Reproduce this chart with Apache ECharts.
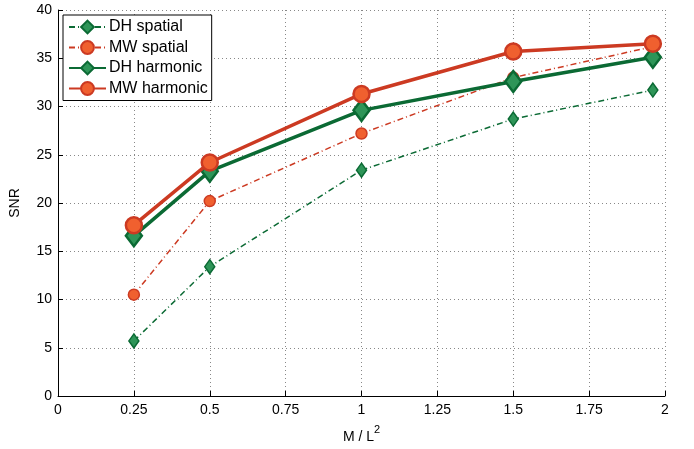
<!DOCTYPE html>
<html>
<head>
<meta charset="utf-8">
<script src="https://cdn.jsdelivr.net/npm/echarts@6/dist/echarts.min.js"></script>
<style>
  html, body { margin: 0; padding: 0; background: #fff; }
  #chart { width: 694px; height: 449px; }
</style>
</head>
<body>
<div id="chart"></div>
<script>
// M / L^2 sample positions
const xVals = [0.25, 0.5, 1, 1.5, 1.96]
const dhSpatial = [5.7, 13.4, 23.4, 28.7, 31.7]
const mwSpatial = [10.5, 20.2, 27.2, 33.0, 36.2]
const dhHarmonic = [16.6, 23.3, 29.6, 32.6, 35.1]
const mwHarmonic = [17.7, 24.2, 31.3, 35.7, 36.5]

const green = '#0b6a34'
const greenFill = '#2e9558'
const red = '#cc3a22'
const redFill = '#f0602f'
const font = 'Liberation Sans, Arial, sans-serif'

const pairs = ys => xVals.map((x, i) => [x, ys[i]])

const axisCommon = {
  axisLine: { lineStyle: { color: '#000', width: 1 } },
  axisTick: { inside: true, length: 5, lineStyle: { color: '#000' } },
  axisLabel: { color: '#000', fontSize: 14, fontFamily: font },
  splitLine: { show: true, lineStyle: { color: '#888', type: [1, 3], width: 1 } },
  nameTextStyle: { color: '#000', fontSize: 14, fontFamily: font }
}

const option = {
  backgroundColor: '#fff',
  animation: false,
  grid: { left: 58, right: 29, top: 10, bottom: 52 },
  xAxis: Object.assign({}, axisCommon, {
    type: 'value',
    min: 0, max: 2, interval: 0.25,
    name: '{a|M / L}{s|2}',
    nameLocation: 'middle',
    nameGap: 28,
    nameTextStyle: {
      rich: {
        a: { fontSize: 14, fontFamily: font, color: '#000', padding: [6, 0, 0, 0] },
        s: { fontSize: 11, fontFamily: font, color: '#000', verticalAlign: 'top' }
      }
    },
    axisLabel: Object.assign({}, axisCommon.axisLabel, { margin: 7 })
  }),
  yAxis: Object.assign({}, axisCommon, {
    type: 'value',
    min: 0, max: 40, interval: 5,
    name: 'SNR',
    nameLocation: 'middle',
    nameGap: 36,
    axisLabel: Object.assign({}, axisCommon.axisLabel, { margin: 6 })
  }),
  legend: {
    orient: 'vertical',
    left: 63, top: 15,
    itemWidth: 37, itemHeight: 16,
    itemGap: 4.5,
    padding: [4, 4, 4, 5],
    borderColor: '#000', borderWidth: 1,
    backgroundColor: '#fff',
    textStyle: { color: '#000', fontSize: 16, fontFamily: font, padding: [0, 0, 0, -2] },
    data: ['DH spatial', 'MW spatial', 'DH harmonic', 'MW harmonic']
  },
  series: [
    {
      name: 'DH spatial', type: 'line', data: pairs(dhSpatial),
      symbol: 'diamond', symbolSize: [10, 14],
      lineStyle: { color: green, width: 1.5, type: [6, 3, 1, 3] },
      itemStyle: { color: greenFill, borderColor: green, borderWidth: 1.5 },
      z: 2
    },
    {
      name: 'MW spatial', type: 'line', data: pairs(mwSpatial),
      symbol: 'circle', symbolSize: 11,
      lineStyle: { color: red, width: 1.5, type: [6, 3, 1, 3] },
      itemStyle: { color: redFill, borderColor: red, borderWidth: 1.5 },
      z: 2
    },
    {
      name: 'DH harmonic', type: 'line', data: pairs(dhHarmonic),
      symbol: 'diamond', symbolSize: [16, 21],
      lineStyle: { color: green, width: 3.5 },
      itemStyle: { color: greenFill, borderColor: green, borderWidth: 2.5 },
      z: 3
    },
    {
      name: 'MW harmonic', type: 'line', data: pairs(mwHarmonic),
      symbol: 'circle', symbolSize: 16,
      lineStyle: { color: red, width: 3.5 },
      itemStyle: { color: redFill, borderColor: red, borderWidth: 2.5 },
      z: 4
    }
  ]
}

const chart = echarts.init(document.getElementById('chart'))
chart.setOption(option)
</script>
</body>
</html>
